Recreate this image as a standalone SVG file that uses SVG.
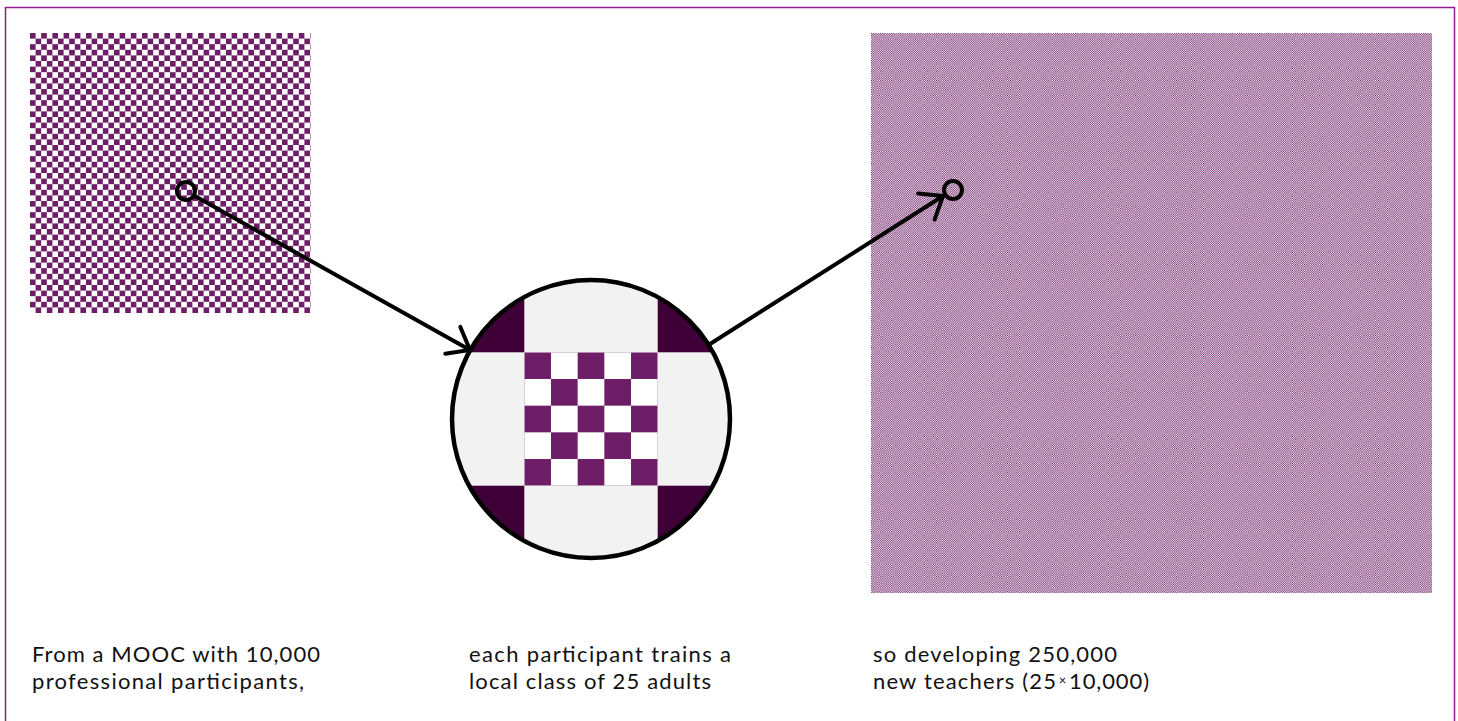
<svg xmlns="http://www.w3.org/2000/svg" width="1458" height="721" viewBox="0 0 1458 721">
  <style>
    .lbl { font-family: Lato, "Open Sans", "Liberation Sans", sans-serif; font-size: 22px; fill: #111111; }
    .conn { fill: none; stroke: #000000; stroke-width: 4; stroke-linecap: round; }
    .dot { fill: none; stroke: #000000; stroke-width: 4; }
    .dark { fill: #3f0038; }
  </style>
  <defs>
    <pattern id="chkLarge" patternUnits="userSpaceOnUse" x="30" y="33" width="11.2" height="11.2">
      <rect x="0" y="0" width="11.2" height="11.2" fill="#ffffff"/>
      <rect x="0" y="0" width="5.6" height="5.6" fill="#6e1e66"/>
      <rect x="5.6" y="5.6" width="5.6" height="5.6" fill="#6e1e66"/>
    </pattern>
    <pattern id="chkSmall" patternUnits="userSpaceOnUse" x="871" y="33" width="2.244" height="2.244">
      <rect x="0" y="0" width="2.244" height="2.244" fill="#ffffff"/>
      <rect x="0" y="0" width="1.122" height="1.122" fill="#6e1e66"/>
      <rect x="1.122" y="1.122" width="1.122" height="1.122" fill="#6e1e66"/>
    </pattern>
    <pattern id="chkMid" patternUnits="userSpaceOnUse" x="524.3" y="352.3" width="53.36" height="53.36">
      <rect x="0" y="0" width="53.36" height="53.36" fill="#ffffff"/>
      <rect x="0" y="0" width="26.68" height="26.68" fill="#6e1e66"/>
      <rect x="26.68" y="26.68" width="26.68" height="26.68" fill="#6e1e66"/>
    </pattern>
    <clipPath id="circClip">
      <circle cx="591" cy="419" r="139"/>
    </clipPath>
    <marker id="arrowOpen" markerUnits="userSpaceOnUse" markerWidth="30" markerHeight="40" viewBox="-24 -20 30 40" refX="0" refY="0" orient="auto" overflow="visible">
      <path d="M -19.7 -15.4 L 0 0 L -19.7 15.4" fill="none" stroke="#000000" stroke-width="4" stroke-linecap="round" stroke-linejoin="miter"/>
    </marker>
  </defs>

  <rect width="1458" height="721" fill="#ffffff"/>
  <g id="frame">
    <rect x="5.5" y="7.5" width="1449" height="740" fill="none" stroke="#951b8c" stroke-width="1.5"/>
  </g>

  <g id="node-mooc">
    <rect x="30" y="33" width="280.5" height="280" fill="url(#chkLarge)"/>
  </g>

  <g id="node-class">
    <g clip-path="url(#circClip)">
      <circle cx="591" cy="419" r="139" fill="#f2f2f2"/>
      <rect class="dark" x="391" y="219" width="133.3" height="133.3"/>
      <rect class="dark" x="657.7" y="219" width="133.3" height="133.3"/>
      <rect class="dark" x="391" y="485.7" width="133.3" height="133.3"/>
      <rect class="dark" x="657.7" y="485.7" width="133.3" height="133.3"/>
      <rect x="524.3" y="352.3" width="133.4" height="133.4" fill="url(#chkMid)"/>
    </g>
    <circle cx="591" cy="419" r="139" fill="none" stroke="#000000" stroke-width="4.5"/>
  </g>

  <g id="node-teachers">
    <rect x="871" y="33" width="561" height="560" fill="url(#chkSmall)"/>
  </g>

  <g id="connectors">
    <circle class="dot" cx="186" cy="191" r="9"/>
    <line class="conn" x1="194" y1="195.5" x2="470" y2="350" marker-end="url(#arrowOpen)"/>
    <line class="conn" x1="710" y1="344" x2="943" y2="196" marker-end="url(#arrowOpen)"/>
    <circle class="dot" cx="953" cy="190" r="9"/>
  </g>

  <g id="label-mooc">
    <text class="lbl"><tspan x="32" y="662.3" textLength="288">From a MOOC with 10,000</tspan><tspan x="32" y="688.8" textLength="272">professional participants,</tspan></text>
  </g>
  <g id="label-class">
    <text class="lbl"><tspan x="469" y="662.3" textLength="262">each participant trains a</tspan><tspan x="469" y="688.8" textLength="242">local class of 25 adults</tspan></text>
  </g>
  <g id="label-teachers">
    <text class="lbl"><tspan x="873" y="662.3" textLength="244">so developing 250,000</tspan><tspan x="873" y="688.8" textLength="183">new teachers (25</tspan><tspan x="1062.5" y="684.8" font-size="13" text-anchor="middle">×</tspan><tspan x="1069" y="688.8" textLength="80">10,000)</tspan></text>
  </g>
</svg>
